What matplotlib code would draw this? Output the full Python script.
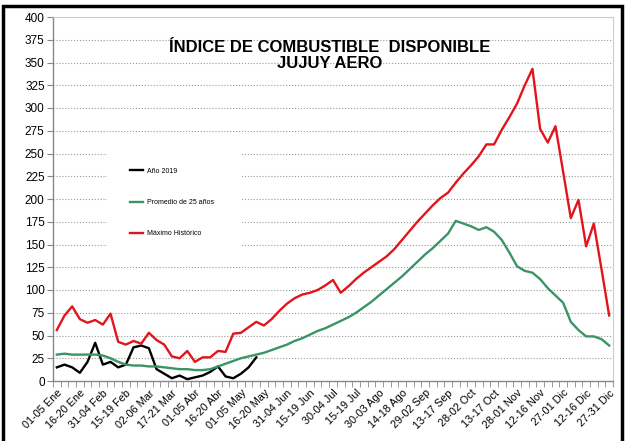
import numpy as np
import matplotlib
matplotlib.use("Agg")
import matplotlib.pyplot as plt
from matplotlib.patches import Rectangle

plt.rcParams['font.family'] = ['Liberation Sans', 'DejaVu Sans']

# --- data (pentads of the year) ---
pentadas = ['01-05 Ene', '16-20 Ene', '31-04 Feb', '15-19 Feb', '02-06 Mar', '17-21 Mar',
            '01-05 Abr', '16-20 Abr', '01-05 May', '16-20 May', '31-04 Jun', '15-19 Jun',
            '30-04 Jul', '15-19 Jul', '30-03 Ago', '14-18 Ago', '29-02 Sep', '13-17 Sep',
            '28-02 Oct', '13-17 Oct', '28-01 Nov', '12-16 Nov', '27-01 Dic', '12-16 Dic',
            '27-31 Dic']

anio_2019 = [15, 18, 15, 9, 21, 42, 18, 21, 15, 18, 37, 39, 36, 13, 8, 3, 6, 2, 4, 6,
             10, 16, 5, 3, 8, 15, 26]

promedio_25 = [29, 30, 29, 29, 29, 29, 28, 25, 21, 18, 17, 17, 16, 16, 15, 14, 13, 13,
               12, 12, 13, 16, 19, 22, 25, 27, 29, 31, 34, 37, 40, 44, 47, 51, 55, 58,
               62, 66, 70, 75, 81, 87, 94, 101, 108, 115, 123, 131, 139, 146, 154, 162,
               176, 173, 170, 166, 169, 164, 155, 141, 126, 121, 119, 112, 102, 94, 86,
               65, 56, 49, 49, 46, 39]

maximo_hist = [56, 72, 82, 68, 64, 67, 62, 74, 43, 40, 44, 41, 53, 45, 40, 27, 25, 33,
               21, 26, 26, 33, 32, 52, 53, 59, 65, 61, 68, 77, 85, 91, 95, 97, 100, 105,
               111, 97, 104, 112, 119, 125, 131, 137, 145, 155, 165, 175, 184, 193, 201,
               207, 218, 228, 237, 247, 260, 260, 276, 290, 305, 325, 343, 277, 262, 280,
               230, 179, 199, 148, 173, 123, 72]

n = len(maximo_hist)
x = np.arange(n)

fig = plt.figure(figsize=(6.27, 4.41), dpi=100)
ax = fig.add_axes([53 / 627, 60 / 441, 560 / 627, 364 / 441])

ax.plot(np.arange(len(anio_2019)), anio_2019, color='black', lw=1.7, label='Año 2019', zorder=3)
ax.plot(x, promedio_25, color='#3a9466', lw=1.7, label='Promedio de 25 años', zorder=3)
ax.plot(x, maximo_hist, color='#e3141c', lw=1.7, label='Máximo Histórico', zorder=3)

ax.set_xlim(-0.5, n - 0.5)
ax.set_ylim(0, 400)
ax.set_yticks(np.arange(0, 401, 25))
ax.tick_params(axis='y', labelsize=8.5, length=4, color='#888888', pad=2)

ax.set_xticks(np.arange(0, n, 3))
ax.set_xticklabels(pentadas, rotation=45, ha='right', rotation_mode='anchor')
ax.set_xticks(np.arange(-0.5, n, 1), minor=True)
ax.tick_params(axis='x', which='major', length=0, labelsize=7.8, pad=5)
ax.tick_params(axis='x', which='minor', length=4, color='#888888')

ax.grid(axis='y', linestyle=':', color='#999999', lw=0.8)
ax.set_axisbelow(True)
for s in ['top', 'right']:
    ax.spines[s].set_color('#cccccc')
    ax.spines[s].set_linewidth(0.8)
for s in ['left', 'bottom']:
    ax.spines[s].set_color('#888888')
    ax.spines[s].set_linewidth(1.0)

# white box behind the legend hides the gridlines
ax.add_patch(Rectangle((54 / 560, 126 / 364), 135 / 560, 105 / 364, transform=ax.transAxes,
                       facecolor='white', edgecolor='none', zorder=1.5))
leg = ax.legend(loc='upper left', bbox_to_anchor=(0.1375, 0.586), frameon=False,
                fontsize=5, labelspacing=3.5, handlelength=1.9, handletextpad=0.6,
                borderpad=0, borderaxespad=0)

fig.text(0.526, 0.874, 'ÍNDICE DE COMBUSTIBLE  DISPONIBLE\nJUJUY AERO', ha='center',
         va='center', fontsize=12, fontweight='bold', linespacing=1.15)

fig.patches.append(Rectangle((3 / 627, -0.05), 619 / 627, 1.05 - 6 / 441, transform=fig.transFigure,
                             fill=False, edgecolor='black', lw=2.5))

fig.savefig('out.png', dpi=100)
